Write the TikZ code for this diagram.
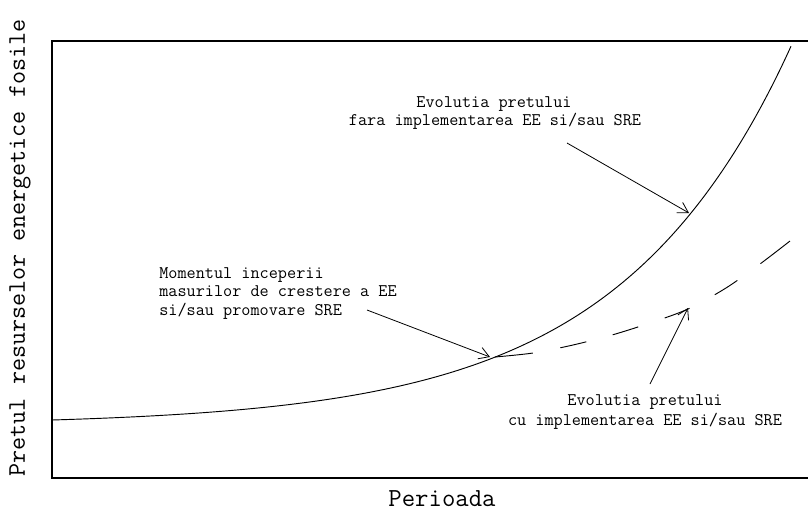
\documentclass[tikz,border=0pt]{standalone}
\usepackage{fontspec}
\usetikzlibrary{arrows.meta}
\begin{document}
\begin{tikzpicture}[x=0.75pt,y=-0.75pt,
  frame/.style={line width=1.2pt},
  curve/.style={line width=0.7pt},
  dashcurve/.style={line width=0.7pt,dash pattern=on 28.5pt off 21pt on 20pt off 20.5pt on 20pt off 21pt on 20pt off 21.5pt on 20pt off 21.5pt on 30pt off 60pt},
  ptr/.style={line width=0.6pt,-{Straight Barb[length=7.5pt,width=9pt]}},
  small/.style={font=\fontsize{13.3}{15}\selectfont\ttfamily,inner sep=0pt},
  big/.style={font=\fontsize{19}{22}\selectfont\ttfamily,inner sep=0pt}]
\useasboundingbox (0,0) rectangle (808,512);
% frame (right side open, runs off the picture)
\draw[frame] (808,41) -- (52,41) -- (52,478) -- (808,478);
% price curve without measures
\draw[curve] plot[domain=52:791,samples=150,smooth] (\x,{420-5.22*(exp(0.0058*(\x-52))-1)});
% price curve with measures
\draw[dashcurve] plot[smooth] coordinates {(495,357) (533,353) (573,345) (612,335) (650,323) (688,309) (726,288) (760,264) (790,241)};
% labels
\node[small,anchor=base] (a1) at (494,107) {Evolutia pretului};
\node[small,anchor=base] (a2) at (495,125) {fara implementarea EE si/sau SRE};
\node[small,anchor=base west] (b1) at (159,278) {Momentul inceperii};
\node[small,anchor=base west] (b2) at (159,296.5) {masurilor de crestere a EE};
\node[small,anchor=base west] (b3) at (159,315) {si/sau promovare SRE};
\node[small,anchor=base] (c1) at (645,405) {Evolutia pretului};
\node[small,anchor=base] (c2) at (645,425) {cu implementarea EE si/sau SRE};
\node[big,anchor=base,font=\fontsize{19.5}{22}\selectfont\ttfamily] (xl) at (442,506) {Perioada};
\node[big,anchor=base,rotate=90] (yl) at (25,248) {Pretul resurselor energetice fosile};
% pointer ends
\coordinate (sA) at (567,143);
\coordinate (tA) at (689,213);
\coordinate (sB) at (367,310);
\coordinate (tB) at (490,357);
\coordinate (sC) at (650,384);
\coordinate (tC) at (688,308);
\draw[ptr] (sA) -- (tA);
\draw[ptr] (sB) -- (tB);
\draw[ptr] (sC) -- (tC);
\end{tikzpicture}
\end{document}
